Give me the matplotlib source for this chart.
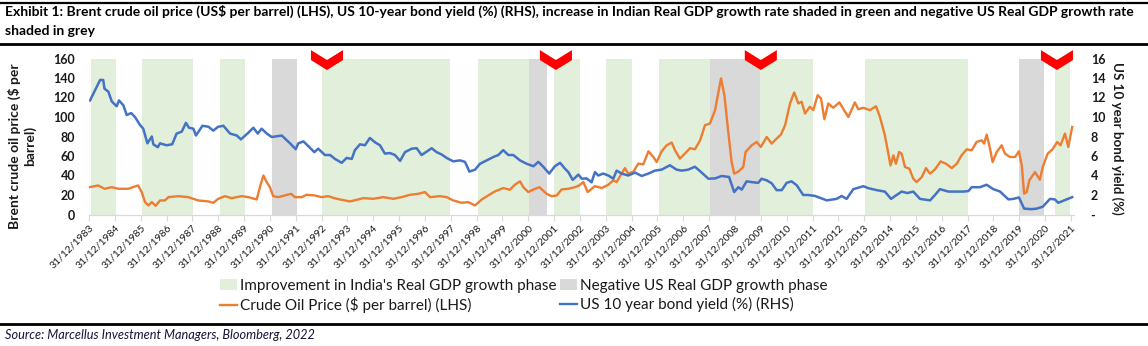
import matplotlib

matplotlib.use("Agg")
import matplotlib.lines as mlines
import matplotlib.patches as mpatches
import matplotlib.pyplot as plt
import numpy as np

W, H = 1148, 346

TITLE_LINE_1 = (
    "Exhibit 1: Brent crude oil price (US$ per barrel) (LHS), US 10-year bond yield (%) (RHS), "
    "increase in Indian Real GDP growth rate shaded in green and negative US Real GDP growth rate"
)
TITLE_LINE_2 = "shaded in grey"
SOURCE = "Source: Marcellus Investment Managers, Bloomberg, 2022"

# x positions are fractional years; 31/12/YYYY sits at YYYY + 1
TICK_YEARS = list(range(1984, 2023))
TICK_LABELS = [f"31/12/{y - 1}" for y in TICK_YEARS]

OIL_YEARS = [
    1984.04, 1984.35, 1984.6, 1984.88, 1985.13, 1985.52, 1985.9, 1986.04, 1986.17, 1986.3,
    1986.43, 1986.58, 1986.75, 1986.94, 1987.07, 1987.46, 1987.84, 1988.23, 1988.62, 1988.81,
    1989.0, 1989.26, 1989.52, 1989.91, 1990.17, 1990.49, 1990.64, 1990.75, 1990.88, 1991.0,
    1991.13, 1991.33, 1991.58, 1991.82, 1991.97, 1992.23, 1992.42, 1992.75, 1993.0, 1993.26,
    1993.49, 1993.71, 1994.1, 1994.62, 1995.0, 1995.39, 1995.78, 1996.1, 1996.42, 1996.74,
    1997.0, 1997.2, 1997.58, 1997.84, 1998.1, 1998.42, 1998.68, 1998.94, 1999.2, 1999.45,
    1999.71, 2000.03, 2000.29, 2000.48, 2000.68, 2000.81, 2001.0, 2001.2, 2001.43, 2001.71,
    2001.9, 2002.1, 2002.29, 2002.55, 2002.81, 2002.97, 2003.13, 2003.3, 2003.58, 2003.84,
    2004.1, 2004.29, 2004.42, 2004.61, 2004.74, 2004.87, 2005.07, 2005.26, 2005.45, 2005.65,
    2005.84, 2005.97, 2006.16, 2006.36, 2006.55, 2006.68, 2006.87, 2007.06, 2007.26, 2007.45,
    2007.65, 2007.84, 2008.03, 2008.23, 2008.36, 2008.46, 2008.59, 2008.74, 2008.87, 2008.97,
    2009.13, 2009.32, 2009.41, 2009.65, 2009.84, 2010.0, 2010.23, 2010.42, 2010.61, 2010.78,
    2010.94, 2011.13, 2011.29, 2011.45, 2011.58, 2011.71, 2011.9, 2012.03, 2012.2, 2012.33,
    2012.46, 2012.61, 2012.8, 2013.04, 2013.22, 2013.39, 2013.64, 2013.77, 2013.97, 2014.22,
    2014.46, 2014.61, 2014.8, 2015.02, 2015.13, 2015.23, 2015.35, 2015.45, 2015.58, 2015.75,
    2015.9, 2016.03, 2016.23, 2016.39, 2016.55, 2016.74, 2016.96, 2017.17, 2017.39, 2017.58,
    2017.77, 2017.97, 2018.16, 2018.35, 2018.55, 2018.64, 2018.74, 2018.87, 2018.97, 2019.13,
    2019.32, 2019.45, 2019.64, 2019.84, 2019.99, 2020.1, 2020.19, 2020.29, 2020.39, 2020.61,
    2020.8, 2020.91, 2021.1, 2021.29, 2021.47, 2021.6, 2021.77, 2021.9, 2022.05,
]
OIL_PRICE = [
    28.1, 29.8, 26.4, 28.0, 26.4, 26.4, 29.8, 23.0, 12.7, 9.3,
    12.7, 8.9, 14.4, 14.4, 17.8, 18.8, 17.8, 14.4, 13.4, 12.0,
    16.1, 18.8, 16.8, 18.8, 17.8, 15.4, 30.5, 40.0, 33.0, 28.0,
    18.8, 17.8, 19.5, 21.2, 17.8, 17.8, 20.2, 19.5, 17.8, 18.8,
    16.8, 15.4, 13.4, 16.8, 16.1, 17.8, 16.1, 17.8, 20.2, 21.2,
    23.0, 17.8, 18.8, 17.8, 14.4, 12.0, 12.7, 9.3, 15.4, 19.5,
    23.7, 27.1, 25.4, 30.5, 34.0, 28.0, 23.0, 25.7, 28.0, 21.2,
    18.8, 19.5, 25.7, 26.4, 28.0, 29.8, 33.3, 23.0, 29.1, 27.1,
    30.5, 35.0, 33.3, 41.9, 47.6, 41.9, 44.0, 52.2, 51.4, 64.8,
    59.0, 53.8, 64.8, 71.0, 73.8, 65.8, 57.3, 62.4, 68.0, 66.9,
    76.1, 91.6, 93.3, 107.0, 125.8, 139.6, 122.4, 84.7, 53.8, 41.9,
    44.0, 48.7, 64.1, 71.0, 74.4, 69.3, 79.5, 72.7, 77.8, 82.0,
    91.6, 113.9, 125.2, 113.9, 115.6, 103.6, 110.5, 107.0, 122.4, 119.0,
    97.7, 113.9, 109.5, 115.0, 107.0, 100.0, 115.0, 108.0, 109.5, 107.0,
    111.0, 100.0, 81.3, 50.4, 60.7, 52.0, 64.1, 62.4, 48.7, 47.0,
    36.7, 33.3, 38.4, 47.6, 41.9, 46.3, 54.5, 52.0, 47.6, 52.0,
    60.7, 66.9, 65.8, 74.4, 76.1, 72.7, 82.0, 67.6, 53.8, 64.1,
    71.0, 62.4, 59.0, 59.0, 64.8, 50.4, 21.3, 23.0, 35.0, 43.5,
    35.7, 48.7, 62.4, 66.9, 74.4, 71.0, 83.0, 69.3, 89.8,
]

YIELD_YEARS = [
    1984.04, 1984.43, 1984.55, 1984.6, 1984.75, 1984.88, 1985.07, 1985.16, 1985.33, 1985.46,
    1985.63, 1985.78, 1985.97, 1986.1, 1986.26, 1986.43, 1986.49, 1986.66, 1986.75, 1987.0,
    1987.22, 1987.39, 1987.59, 1987.75, 1987.87, 1988.04, 1988.14, 1988.39, 1988.62, 1988.81,
    1989.0, 1989.2, 1989.46, 1989.72, 1989.88, 1990.17, 1990.36, 1990.53, 1990.68, 1990.88,
    1991.07, 1991.46, 1991.58, 1991.78, 1992.0, 1992.1, 1992.3, 1992.49, 1992.72, 1992.87,
    1993.13, 1993.33, 1993.52, 1993.78, 1993.97, 1994.17, 1994.29, 1994.49, 1994.68, 1994.87,
    1995.07, 1995.26, 1995.45, 1995.65, 1995.84, 1996.04, 1996.23, 1996.49, 1996.68, 1996.87,
    1997.07, 1997.26, 1997.45, 1997.65, 1997.84, 1998.1, 1998.36, 1998.55, 1998.72, 1998.94,
    1999.13, 1999.39, 1999.65, 1999.84, 2000.03, 2000.23, 2000.42, 2000.68, 2000.94, 2001.2,
    2001.39, 2001.58, 2001.81, 2002.03, 2002.23, 2002.42, 2002.55, 2002.72, 2002.94, 2003.07,
    2003.26, 2003.45, 2003.58, 2003.71, 2003.9, 2004.1, 2004.29, 2004.42, 2004.61, 2004.87,
    2005.13, 2005.39, 2005.65, 2005.9, 2006.16, 2006.48, 2006.74, 2006.94, 2007.19, 2007.45,
    2007.71, 2007.97, 2008.23, 2008.48, 2008.77, 2008.97, 2009.13, 2009.26, 2009.45, 2009.71,
    2009.9, 2010.03, 2010.23, 2010.42, 2010.61, 2010.81, 2011.0, 2011.19, 2011.39, 2011.64,
    2011.84, 2012.1, 2012.3, 2012.55, 2012.93, 2013.13, 2013.32, 2013.58, 2013.97, 2014.16,
    2014.48, 2014.8, 2015.04, 2015.2, 2015.45, 2015.67, 2015.9, 2016.16, 2016.55, 2016.74,
    2016.93, 2017.26, 2017.58, 2017.84, 2018.03, 2018.16, 2018.48, 2018.74, 2019.0, 2019.26,
    2019.58, 2019.77, 2019.99, 2020.19, 2020.48, 2020.67, 2020.91, 2021.19, 2021.38, 2021.51,
    2021.84, 2022.05,
]
US_10Y_YIELD = [
    11.7, 13.8, 13.8, 12.9, 12.6, 11.6, 11.1, 11.7, 11.2, 10.2,
    10.4, 10.0, 9.2, 8.8, 7.3, 8.0, 7.2, 6.9, 7.3, 7.1,
    7.2, 8.3, 8.5, 9.4, 8.9, 8.8, 8.1, 9.1, 9.0, 8.6,
    9.0, 9.1, 8.3, 8.1, 7.7, 8.4, 8.9, 8.3, 8.8, 8.3,
    7.95, 8.1, 7.8, 7.3, 6.7, 7.3, 7.5, 7.0, 6.4, 6.75,
    6.1, 6.1, 5.7, 5.3, 5.8, 5.7, 6.6, 7.2, 7.1, 7.85,
    7.4, 7.1, 6.25, 6.3, 6.1, 5.5, 6.4, 6.75, 6.8, 6.1,
    6.45, 6.8, 6.4, 6.15, 5.8, 5.45, 5.55, 5.4, 4.4, 4.6,
    5.2, 5.55, 5.9, 6.1, 6.6, 6.1, 6.1, 5.55, 5.2, 4.95,
    5.4, 4.9, 4.2, 4.95, 5.3, 4.7, 4.35, 3.55, 4.1, 3.67,
    3.7, 3.3, 4.35, 4.0, 4.2, 4.0, 3.67, 4.5, 4.2, 4.0,
    4.3, 3.95, 4.2, 4.5, 4.6, 5.05, 4.6, 4.5, 4.6, 4.9,
    4.3, 3.67, 3.7, 3.95, 3.85, 2.3, 2.8, 2.55, 3.4, 3.3,
    3.25, 3.67, 3.5, 3.2, 2.5, 2.5, 3.25, 3.4, 3.0, 2.0,
    2.0, 1.9, 1.7, 1.45, 1.6, 1.9, 1.6, 2.6, 2.9, 2.7,
    2.5, 2.35, 1.6, 1.9, 2.35, 2.2, 2.35, 1.6, 1.45, 2.0,
    2.6, 2.35, 2.35, 2.35, 2.4, 2.8, 2.8, 3.05, 2.6, 2.35,
    1.55, 1.6, 1.75, 0.6, 0.55, 0.6, 0.8, 1.6, 1.55, 1.2,
    1.55, 1.78,
]

INDIA_GDP_UP = [
    (1984.08, 1985.05), (1986.06, 1988.03), (1989.07, 1990.04), (1993.03, 1997.97),
    (1999.04, 2001.04), (2002.0, 2003.0), (2004.0, 2005.0), (2006.06, 2008.03),
    (2009.97, 2012.03), (2014.03, 2018.0), (2021.38, 2021.97),
]
US_GDP_NEGATIVE = [(1991.07, 1992.04), (2001.04, 2001.74), (2008.03, 2009.97), (2020.0, 2020.96)]

CHEVRON_YEARS = [1993.21, 2002.07, 2010.0, 2021.46]

LEFT_TICKS = list(range(0, 161, 20))
RIGHT_TICKS = list(range(0, 17, 2))
RIGHT_TICK_LABELS = ["-"] + [str(v) for v in RIGHT_TICKS[1:]]

GREEN = "#e2efda"
GREY = "#d9d9d9"
ORANGE = "#ed7d31"
BLUE = "#4472c4"
TEXT = "#1a1a1a"


def fx(px: float) -> float:
    return px / W


def fy(px: float) -> float:
    return 1 - px / H


def draw_chevrons(ax) -> None:
    half = 0.62
    trans = ax.get_xaxis_transform()
    for year in CHEVRON_YEARS:
        pts = [
            (year - half, 1.054), (year, 0.990), (year + half, 1.054),
            (year + half, 0.990), (year, 0.926), (year - half, 0.990),
        ]
        ax.add_patch(mpatches.Polygon(pts, closed=True, facecolor="#ff0000", edgecolor="none",
                                      transform=trans, clip_on=False, zorder=10))


def main() -> None:
    plt.rcParams["font.family"] = ["Lato", "DejaVu Sans"]

    fig = plt.figure(figsize=(W / 100, H / 100), dpi=100)
    ax = fig.add_axes([fx(89), fy(214.5), fx(1074) - fx(89), fy(58.5) - fy(214.5)])
    ax2 = ax.twinx()

    for start, end in INDIA_GDP_UP:
        ax.axvspan(start, end, facecolor=GREEN, edgecolor="none", zorder=0)
    for start, end in US_GDP_NEGATIVE:
        ax.axvspan(start, end, facecolor=GREY, edgecolor="none", zorder=0)

    ax.plot(OIL_YEARS, OIL_PRICE, color=ORANGE, lw=1.7, zorder=3)
    ax2.plot(YIELD_YEARS, US_10Y_YIELD, color=BLUE, lw=1.8, zorder=3)

    ax.set_xlim(1984.0, 2022.12)
    ax.set_ylim(0, 160)
    ax2.set_ylim(0, 16)

    ax.set_xticks(TICK_YEARS)
    ax.set_xticklabels(TICK_LABELS, rotation=45, ha="right", rotation_mode="anchor",
                       fontsize=7.5, color=TEXT)
    ax.tick_params(axis="x", length=4, color=GREY, pad=2)
    ax.set_yticks(LEFT_TICKS)
    ax.set_yticklabels([str(v) for v in LEFT_TICKS], fontsize=9, fontweight="bold", color=TEXT)
    ax.tick_params(axis="y", length=0, pad=10)
    ax2.set_yticks(RIGHT_TICKS)
    ax2.set_yticklabels(RIGHT_TICK_LABELS, fontsize=9, fontweight="bold", color=TEXT)
    ax2.tick_params(axis="y", length=0, pad=12)

    for a in (ax, ax2):
        for side in ("left", "right", "top"):
            a.spines[side].set_visible(False)
        a.spines["bottom"].set_color(GREY)

    draw_chevrons(ax)

    fig.text(fx(22), fy(146), "Brent crude oil price ($ per\nbarrel)", rotation=90,
             ha="center", va="center", fontsize=10, fontweight="bold", color=TEXT,
             multialignment="center", linespacing=1.25)
    fig.text(fx(1117), fy(138), "US 10 year bond yield (%)", rotation=270,
             ha="center", va="center", fontsize=9.6, fontweight="bold", color=TEXT)

    fig.text(fx(5), fy(11), TITLE_LINE_1, ha="left", va="center", fontsize=10,
             fontweight="bold", color="black")
    fig.text(fx(5), fy(31), TITLE_LINE_2, ha="left", va="center", fontsize=10,
             fontweight="bold", color="black")
    for ypx, lw in ((3, 1.6), (43.5, 2.0), (324, 2.0)):
        fig.add_artist(mlines.Line2D([0, 1], [fy(ypx), fy(ypx)], transform=fig.transFigure,
                                     color="black", lw=lw))
    fig.text(fx(5), fy(335), SOURCE, ha="left", va="center", fontsize=9.2,
             style="italic", color="#14143a")

    handles = [
        mpatches.Patch(facecolor=GREEN, edgecolor="none"),
        mlines.Line2D([], [], color=ORANGE, lw=1.7),
        mpatches.Patch(facecolor=GREY, edgecolor="none"),
        mlines.Line2D([], [], color=BLUE, lw=1.7),
    ]
    labels = [
        "Improvement in India's Real GDP growth phase",
        "Crude Oil Price ($ per barrel) (LHS)",
        "Negative US Real GDP growth phase",
        "US 10 year bond yield (%) (RHS)",
    ]
    fig.legend(handles, labels, ncol=2, loc="upper left", bbox_to_anchor=(fx(209), fy(268)),
               frameon=False, fontsize=11, handlelength=1.1, handleheight=0.75,
               handletextpad=0.25, columnspacing=0.2, labelspacing=0.3, borderpad=0.2,
               labelcolor=TEXT)

    fig.savefig("out.png", dpi=100)
    plt.close(fig)


if __name__ == "__main__":
    main()
